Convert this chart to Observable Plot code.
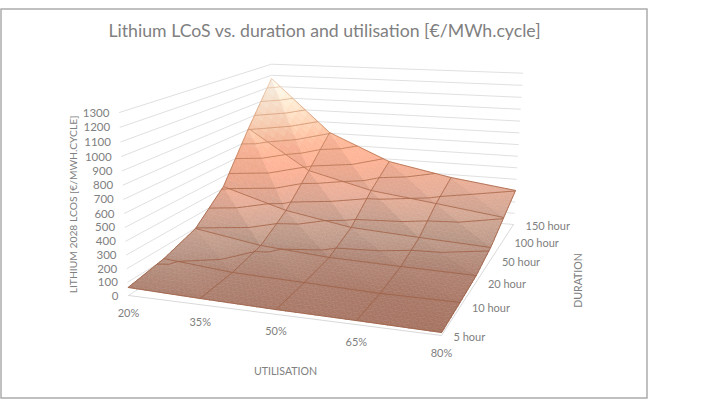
<!DOCTYPE html>
<html><head><meta charset="utf-8">
<style>html,body{margin:0;padding:0;background:#fff}svg{display:block}</style>
<script src="https://cdn.jsdelivr.net/npm/d3@7"></script>
<script src="https://cdn.jsdelivr.net/npm/@observablehq/plot@0.6"></script>
</head><body><div id="chart"></div>
<script>
const utilisation = ["20%","35%","50%","65%","80%"];
const duration = ["5 hour","10 hour","20 hour","50 hour","100 hour","150 hour"];
const lcos20 = [60,110,197,414,808,1171];
const lcos35 = [45,62,112,256,473,707];
const lcos50 = [34,48,73,163,341,478];
const lcos65 = [28,32,61,133,274,374];
const lcos80 = [20,34,53,107,204,302];
const series = [lcos20,lcos35,lcos50,lcos65,lcos80];
const axisValues = d3.range(0,1301,100);
const contourLevels = d3.range(100,1300,100);
const titleText = "Lithium LCoS vs. duration and utilisation [€/MWh.cycle]";
const zTitle = "LITHIUM 2028 LCOS [€/MWH.CYCLE]";
const uTitle = "UTILISATION", dTitle = "DURATION";

// perspective camera: floor corners and vertical vanishing point of the Excel 3D view
const corners = [[128,295],[441,335],[513,224],[272,203]];
const vanish = [300,3780];
const zGain = 0.0499/1300;
const [[x0,y0],[x1,y1],[x2,y2],[x3,y3]] = corners;
const den=(x1-x2)*(y3-y2)-(x3-x2)*(y1-y2);
const sx=x0-x1+x2-x3, sy=y0-y1+y2-y3;
const g=(sx*(y3-y2)-(x3-x2)*sy)/den, h=((x1-x2)*sy-sx*(y1-y2))/den;
const a=x1-x0+g*x1,b=x3-x0+h*x3,e=y1-y0+g*y1,f=y3-y0+h*y3;
function project(u,v,z){
  const w=1+g*u+h*v, X=(a*u+b*v+x0)/w, Y=(e*u+f*v+y0)/w, t=-z*zGain/w;
  return [(X+t*vanish[0])/(1+t),(Y+t*vanish[1])/(1+t)];
}
const U=i=>i/(utilisation.length-1), V=j=>j/(duration.length-1);

const surface = d3.scaleLinear()
  .domain([0,60,130,220,320,480,650,800,1000,1200])
  .range(["#a26c59","#b08474","#bd9a8a","#d0a593","#e2ab96","#f5ae93","#ffb597","#ffcfb1","#ffe9d4","#fff9f1"])
  .clamp(true);
const lineColour = d3.scaleLinear()
  .domain([0,300,600,900,1200])
  .range(["#9c5f45","#a9674a","#c07c58","#d9a27e","#efd0b5"])
  .clamp(true);
const shade=(z,k)=>{const c=d3.rgb(surface(z));return (k>=0?c.darker(k):c.brighter(-k)).formatHex();};

const tris=[],segs=[];
let id=0;
const n=8;
function addTri(P,k){
  for(let r=0;r<n;r++)for(let s=0;s<n-r;s++){
    const cell=[[[r,s],[r+1,s],[r,s+1]]];
    if(s<n-r-1)cell.push([[r+1,s],[r+1,s+1],[r,s+1]]);
    for(const c of cell){
      const pts=c.map(([p,q])=>{const l=1-(p+q)/n,m=p/n,o=q/n;
        return [l*P[0][0]+m*P[1][0]+o*P[2][0],l*P[0][1]+m*P[1][1]+o*P[2][1],l*P[0][2]+m*P[1][2]+o*P[2][2]];});
      const zc=d3.mean(pts,d=>d[2]);
      const col=shade(zc,k);id++;
      for(const p of [...pts,pts[0]]){const [x,y]=project(...p);tris.push({x,y,id,col});}
    }
  }
}
function contour(P){
  for(const L of contourLevels){
    const cut=[];
    for(let q=0;q<3;q++){const A=P[q],B=P[(q+1)%3];
      if((A[2]-L)*(B[2]-L)<0){const t=(L-A[2])/(B[2]-A[2]);
        cut.push([A[0]+t*(B[0]-A[0]),A[1]+t*(B[1]-A[1]),L]);}}
    if(cut.length==2)addSeg(cut[0],cut[1]);
  }
}
function addSeg(A,B){
  const m=6;
  for(let q=0;q<m;q++){
    const p=[0,1,2].map(k=>A[k]+(B[k]-A[k])*q/m), r=[0,1,2].map(k=>A[k]+(B[k]-A[k])*(q+1)/m);
    const [ax,ay]=project(...p),[bx,by]=project(...r);
    segs.push({ax,ay,bx,by,c:lineColour((p[2]+r[2])/2)});
  }
}
const pt=(i,j)=>[U(i),V(j),series[i][j]];
for(let j=duration.length-2;j>=0;j--)for(let i=0;i<utilisation.length-1;i++){
  const A=pt(i,j),B=pt(i+1,j),C=pt(i+1,j+1),D=pt(i,j+1);
  addTri([A,B,D],Math.min(0.1,(D[2]-A[2])/1800));
  addTri([B,C,D],-Math.min(0.07,(C[2]-B[2])/2200));
}
for(let j=duration.length-2;j>=0;j--)for(let i=0;i<utilisation.length-1;i++){
  const A=pt(i,j),B=pt(i+1,j),C=pt(i+1,j+1),D=pt(i,j+1);
  contour([A,B,D]);contour([B,C,D]);
}
series.forEach((s,i)=>s.forEach((z,j)=>{ if(j<s.length-1)addSeg(pt(i,j),pt(i,j+1)); }));
duration.forEach((d,j)=>{for(let i=0;i<series.length-1;i++)addSeg(pt(i,j),pt(i+1,j));});

const wall=[];
axisValues.forEach(z=>{
  [[0,0],[0,1],[1,1]].forEach(([u,v])=>{const [x,y]=project(u,v,z);wall.push({x,y,z});});
});
const floor=[[0,0],[1,0],[1,1]].map(([u,v])=>{const [x,y]=project(u,v,0);return{x,y};});
const zLabels=axisValues.map(z=>{const [x,y]=project(0,0,z);return{x:x-10,y:y+0.5,t:String(z)};});
const uLabels=utilisation.map((t,i)=>{const [x,y]=project(U(i),0,0);return{x,y:y+17.5,t};});
const dLabels=duration.map((t,j)=>{const [x,y]=project(1,V(j),0);return{x:x+12,y:y+1.5,t};});
const border=[{x1:1,x2:647,y1:9,y2:398}];

const grey="#808080", font="Lato, 'Open Sans', sans-serif";
const plot=Plot.plot({
  width:727,height:409,margin:0,
  x:{domain:[0,727],range:[0,727],axis:null},
  y:{domain:[0,409],range:[0,409],axis:null},
  color:{type:"identity"},
  style:{background:"#fff",fontFamily:font},
  marks:[
    Plot.rect(border,{x1:"x1",x2:"x2",y1:"y1",y2:"y2",fill:"none",stroke:"#a6a6a6",strokeWidth:1.4}),
    Plot.line(wall,{x:"x",y:"y",z:"z",stroke:"#e0e0e0",strokeWidth:1}),
    Plot.line(floor,{x:"x",y:"y",stroke:"#d9d9d9",strokeWidth:1}),
    Plot.line(tris,{x:"x",y:"y",z:"id",fill:"col",stroke:"col",strokeWidth:0.5}),
    Plot.link(segs,{x1:"ax",y1:"ay",x2:"bx",y2:"by",stroke:"c",strokeWidth:1,strokeOpacity:0.85}),
    Plot.text(zLabels,{x:"x",y:"y",text:"t",textAnchor:"end",fontSize:11.5,fill:grey}),
    Plot.text(uLabels,{x:"x",y:"y",text:"t",fontSize:11,fill:grey}),
    Plot.text(dLabels,{x:"x",y:"y",text:"t",textAnchor:"start",fontSize:11,fill:grey}),
    Plot.text([titleText],{x:()=>324,y:()=>31,text:d=>d,fontSize:17.7,fill:"#808080"}),
    Plot.text([zTitle],{x:()=>73,y:()=>204,text:d=>d,rotate:-90,fontSize:10.3,fill:grey}),
    Plot.text([uTitle],{x:()=>285,y:()=>371,text:d=>d,fontSize:10.6,fill:grey}),
    Plot.text([dTitle],{x:()=>578,y:()=>280,text:d=>d,rotate:-90,fontSize:10.6,fill:grey})
  ]
});
document.getElementById("chart").append(plot);
</script></body></html>
